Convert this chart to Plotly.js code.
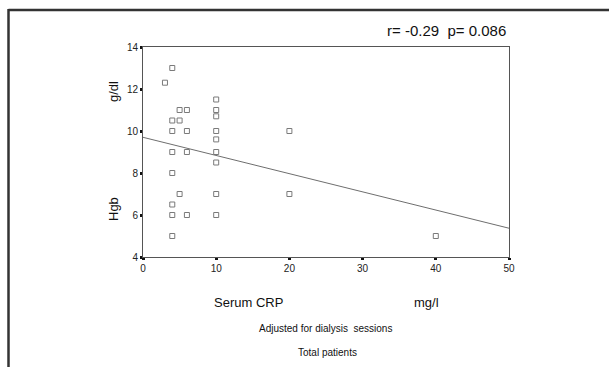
<!DOCTYPE html>
<html>
<head>
<meta charset="utf-8">
<script src="https://cdn.plot.ly/plotly-3.0.1.min.js"></script>
<style>
html,body{margin:0;padding:0;background:#fff;}
#chart{width:609px;height:367px;}
</style>
</head>
<body>
<div id="chart"></div>
<script>
// Serum CRP (mg/l) vs Hgb (g/dl)
const crp = [3, 4, 5, 6, 4, 5, 4, 6, 10, 10, 10, 10, 10, 20, 4, 6, 10, 10, 4, 5, 10, 20, 4, 4, 6, 10, 4, 40];
const hgb = [12.3, 13, 11, 11, 10.5, 10.5, 10, 10, 11.5, 11, 10.7, 10, 9.6, 10, 9, 9, 9, 8.5, 8, 7, 7, 7, 6.5, 6, 6, 6, 5, 5];
// fitted regression line end points
const fitX = [0, 50];
const fitY = [9.7, 5.37];
const xTicks = [0, 10, 20, 30, 40, 50];
const yTicks = [4, 6, 8, 10, 12, 14];
const statText = "r= -0.29  p= 0.086";
const xTitle = "Serum CRP";
const xUnit = "mg/l";
const yTitle = "Hgb";
const yUnit = "g/dl";
const note1 = "Adjusted for dialysis  sessions";
const note2 = "Total patients";

const FONT = "Liberation Sans, Arial, sans-serif";
const L = 143, R = 509, T = 47, B = 257;
const px = v => (v - L) / (R - L);
const py = v => (B - v) / (B - T);

const traces = [
  {
    x: crp, y: hgb, type: 'scatter', mode: 'markers',
    marker: {symbol: 'square-open', size: 5, color: '#7a7a7a', line: {width: 1, color: '#7a7a7a'}},
    hoverinfo: 'x+y', showlegend: false
  },
  {
    x: fitX, y: fitY, type: 'scatter', mode: 'lines',
    line: {color: '#6e6e6e', width: 1}, showlegend: false, hoverinfo: 'skip'
  }
];

const axisCommon = {
  showgrid: false, zeroline: false, showline: true, mirror: true,
  linecolor: '#555', linewidth: 1,
  ticks: 'outside', ticklen: 2, tickwidth: 3, tickcolor: '#111',
  tickfont: {family: FONT, size: 10, color: '#222'},
  fixedrange: true
};

const layout = {
  width: 609, height: 367,
  margin: {l: L, r: 609 - R, t: T, b: 367 - B, pad: 0},
  paper_bgcolor: '#fff', plot_bgcolor: '#fff',
  showlegend: false,
  xaxis: Object.assign({}, axisCommon, {range: [0, 50], tickvals: xTicks, ticktext: xTicks.map(String)}),
  yaxis: Object.assign({}, axisCommon, {range: [4, 14], tickvals: yTicks, ticktext: yTicks.map(String)}),
  annotations: [
    {text: statText, xref: 'paper', yref: 'paper', x: px(508), y: py(30), xanchor: 'right', yanchor: 'middle', showarrow: false, font: {family: FONT, size: 15, color: '#111'}},
    {text: xTitle, xref: 'paper', yref: 'paper', x: px(248), y: py(302), xanchor: 'center', yanchor: 'middle', showarrow: false, font: {family: FONT, size: 13, color: '#111'}},
    {text: xUnit, xref: 'paper', yref: 'paper', x: px(426), y: py(302), xanchor: 'center', yanchor: 'middle', showarrow: false, font: {family: FONT, size: 13, color: '#111'}},
    {text: note1, xref: 'paper', yref: 'paper', x: px(325), y: py(328), xanchor: 'center', yanchor: 'middle', showarrow: false, font: {family: FONT, size: 10, color: '#111'}},
    {text: note2, xref: 'paper', yref: 'paper', x: px(327), y: py(352), xanchor: 'center', yanchor: 'middle', showarrow: false, font: {family: FONT, size: 10, color: '#111'}},
    {text: yUnit, xref: 'paper', yref: 'paper', x: px(113), y: py(92), xanchor: 'center', yanchor: 'middle', textangle: -90, showarrow: false, font: {family: FONT, size: 13, color: '#111'}},
    {text: yTitle, xref: 'paper', yref: 'paper', x: px(113), y: py(209), xanchor: 'center', yanchor: 'middle', textangle: -90, showarrow: false, font: {family: FONT, size: 13, color: '#111'}}
  ],
  shapes: [
    {type: 'line', xref: 'paper', yref: 'paper', x0: px(8.5), x1: px(612), y0: py(10), y1: py(10), line: {color: '#333', width: 2.5}},
    {type: 'line', xref: 'paper', yref: 'paper', x0: px(8.5), x1: px(8.5), y0: py(9), y1: py(370), line: {color: '#333', width: 2.5}}
  ]
};

Plotly.newPlot('chart', traces, layout, {displayModeBar: false, staticPlot: true});
</script>
</body>
</html>
